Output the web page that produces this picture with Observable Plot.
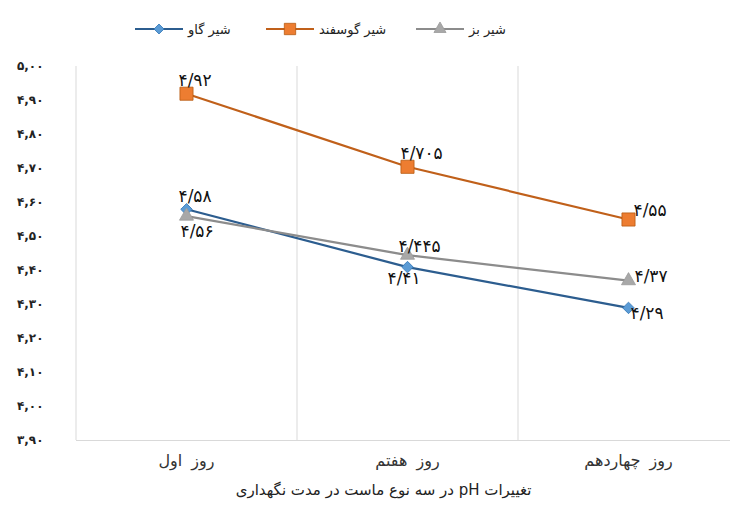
<!DOCTYPE html>
<html>
<head>
<meta charset="utf-8">
<script src="https://cdn.jsdelivr.net/npm/d3@7"></script>
<script src="https://cdn.jsdelivr.net/npm/@observablehq/plot@0.6"></script>
<style>
  html, body { margin: 0; padding: 0; background: #fff; }
  body { width: 730px; height: 505px; overflow: hidden; font-family: "DejaVu Sans", sans-serif; }
  #legend { position: relative; height: 50px; width: 730px; }
  .entry { position: absolute; top: 20px; display: flex; align-items: center; gap: 5px; font-size: 13px; color: #222; }
  .entry svg { display: block; }
</style>
</head>
<body>
<div id="legend"></div>
<div id="chart"></div>
<script>
// ---- data ----
const categories = ["روز اول", "روز هفتم", "روز چهاردهم"];
const seriesNames = ["شیر گاو", "شیر گوسفند", "شیر بز"];
const cow = [4.58, 4.41, 4.29];
const sheep = [4.92, 4.705, 4.55];
const goat = [4.56, 4.445, 4.37];
const yTicks = [3.9, 4.0, 4.1, 4.2, 4.3, 4.4, 4.5, 4.6, 4.7, 4.8, 4.9, 5.0];
const caption = "تغییرات pH در سه نوع ماست در مدت نگهداری";

// ---- styling ----
const styles = [
  {name: seriesNames[0], values: cow, line: "#2C5D8F", fill: "#5B9BD5", stroke: "#2E75B6", symbol: "diamond2", r: 5.2,
   offsets: [[-8, -13], [-20, 11], [2, 6]], legendLeft: 135},
  {name: seriesNames[1], values: sheep, line: "#C0601A", fill: "#ED7D31", stroke: "#B85A12", symbol: "square", r: 7.4,
   offsets: [[-8, -13], [-7, -13], [5, -9]], legendLeft: 266},
  {name: seriesNames[2], values: goat, line: "#8C8C8C", fill: "#A8A8A8", stroke: "#9A9A9A", symbol: "triangle", r: 5.2,
   offsets: [[-6, 15], [-9, -9], [6, -4]], legendLeft: 416}
];

const faDigits = "۰۱۲۳۴۵۶۷۸۹";
const toFa = s => s.replace(/\d/g, d => faDigits[+d]);
const idx = categories.map((_, i) => i);

// ---- legend ----
const legend = document.getElementById("legend");
styles.forEach(s => {
  const e = document.createElement("div");
  e.className = "entry";
  e.style.left = s.legendLeft + "px";
  const sym = d3.symbol(
    s.symbol === "square" ? d3.symbolSquare : s.symbol === "triangle" ? d3.symbolTriangle : d3.symbolDiamond2,
    s.r * s.r * Math.PI * 0.75)();
  e.innerHTML = `<svg width="48" height="18"><line x1="0" x2="48" y1="9" y2="9" stroke="${s.line}" stroke-width="2.2"/>` +
    `<path d="${sym}" transform="translate(24,9)" fill="${s.fill}" stroke="${s.stroke}" stroke-width="0.8"/></svg>` +
    `<span>${s.name}</span>`;
  legend.appendChild(e);
});

// ---- chart ----
const marks = [
  Plot.ruleX([-0.5, 0.5, 1.5], {stroke: "#d9d9d9", strokeWidth: 1}),
  Plot.ruleY([yTicks[0]], {stroke: "#d9d9d9", strokeWidth: 1.2}),
  Plot.axisY({ticks: yTicks, tickSize: 0, tickPadding: 33, fontSize: 12, fontWeight: "bold", fill: "#222",
    tickFormat: v => toFa(v.toFixed(2).replace(".", ",")), label: null}),
  Plot.axisX({ticks: idx, tickSize: 0, tickPadding: 14, fontSize: 16, fill: "#333",
    tickFormat: i => categories[i], label: null}),
  Plot.text([caption], {x: () => 1, frameAnchor: "bottom", dx: -24, dy: 54, fontSize: 15, fill: "#222",
    text: d => "\u202B" + d + "\u202C", ariaLabel: "caption"})
];

styles.forEach(s => {
  marks.push(Plot.line(idx, {x: i => i, y: i => s.values[i], stroke: s.line, strokeWidth: 2.2}));
});
styles.forEach(s => {
  marks.push(Plot.dot(idx, {x: i => i, y: i => s.values[i], symbol: s.symbol, r: s.r,
    fill: s.fill, stroke: s.stroke, strokeWidth: 0.8}));
});
styles.forEach(s => {
  idx.forEach(i => {
    marks.push(Plot.text([i], {x: d => d, y: d => s.values[d],
      text: d => toFa(String(s.values[d]).replace(".", "/")),
      dx: s.offsets[i][0], dy: s.offsets[i][1], textAnchor: "start", lineAnchor: "middle",
      fontSize: 17, fill: "#111"}));
  });
});

const chart = Plot.plot({
  width: 730,
  height: 455,
  marginTop: 16,
  marginBottom: 65,
  marginLeft: 76,
  marginRight: 0,
  style: {fontFamily: "DejaVu Sans, sans-serif", background: "#fff", overflow: "visible"},
  x: {type: "linear", domain: [-0.5, 2.5], range: [75.5, 738.5], axis: null},
  y: {domain: [3.9, 5.0], axis: null},
  marks
});
const sel = d3.select(chart);
sel.selectAll('g[aria-label="y-axis tick label"] text').attr("letter-spacing", "3");
sel.selectAll('g[aria-label="x-axis tick label"] text').attr("word-spacing", "4");
sel.selectAll('g[aria-label="caption"] text').attr("word-spacing", "6");
document.getElementById("chart").appendChild(chart);
</script>
</body>
</html>
